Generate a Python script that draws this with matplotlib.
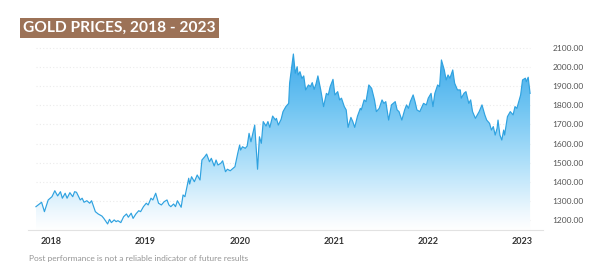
#gold prices chart 2018-2023
import numpy as np
import matplotlib
matplotlib.use('Agg')
import matplotlib.pyplot as plt
from matplotlib.colors import LinearSegmentedColormap
from matplotlib.patches import Polygon

#---------------------------------------------------------------- dati
anni = [2017.84, 2017.90, 2017.93, 2017.97, 2018.01, 2018.04, 2018.07, 2018.10, 2018.12, 2018.15,
        2018.17, 2018.20, 2018.23, 2018.25, 2018.27, 2018.31, 2018.33, 2018.35, 2018.38, 2018.41,
        2018.43, 2018.47, 2018.50, 2018.54, 2018.56, 2018.60, 2018.62, 2018.64, 2018.67, 2018.69,
        2018.71, 2018.74, 2018.77, 2018.80, 2018.82, 2018.85, 2018.87, 2018.90, 2018.93, 2018.95,
        2018.98, 2019.01, 2019.03, 2019.06, 2019.08, 2019.11, 2019.14, 2019.17, 2019.20, 2019.23,
        2019.25, 2019.27, 2019.30, 2019.32, 2019.34, 2019.38, 2019.40, 2019.42, 2019.46, 2019.47,
        2019.49, 2019.52, 2019.55, 2019.58, 2019.60, 2019.63, 2019.65, 2019.68, 2019.70, 2019.73,
        2019.75, 2019.77, 2019.80, 2019.82, 2019.85, 2019.87, 2019.90, 2019.93, 2019.95, 2019.98,
        2020.00, 2020.01, 2020.03, 2020.06, 2020.08, 2020.10, 2020.12, 2020.14, 2020.16, 2020.19,
        2020.21, 2020.23, 2020.25, 2020.28, 2020.30, 2020.32, 2020.35, 2020.38, 2020.39, 2020.41,
        2020.44, 2020.46, 2020.49, 2020.52, 2020.53, 2020.57, 2020.59, 2020.61, 2020.62, 2020.64,
        2020.66, 2020.68, 2020.70, 2020.73, 2020.75, 2020.77, 2020.79, 2020.81, 2020.83, 2020.86,
        2020.89, 2020.92, 2020.94, 2020.96, 2020.99, 2021.01, 2021.04, 2021.06, 2021.08, 2021.11,
        2021.13, 2021.15, 2021.18, 2021.20, 2021.22, 2021.25, 2021.28, 2021.29, 2021.32, 2021.34,
        2021.37, 2021.40, 2021.43, 2021.45, 2021.48, 2021.51, 2021.53, 2021.55, 2021.58, 2021.61,
        2021.65, 2021.67, 2021.69, 2021.72, 2021.75, 2021.77, 2021.79, 2021.81, 2021.84, 2021.86,
        2021.88, 2021.91, 2021.95, 2021.98, 2022.00, 2022.03, 2022.05, 2022.07, 2022.10, 2022.12,
        2022.14, 2022.17, 2022.19, 2022.21, 2022.23, 2022.26, 2022.28, 2022.31, 2022.34, 2022.35,
        2022.38, 2022.40, 2022.43, 2022.45, 2022.47, 2022.50, 2022.52, 2022.54, 2022.57, 2022.60,
        2022.62, 2022.65, 2022.67, 2022.69, 2022.71, 2022.73, 2022.74, 2022.76, 2022.78, 2022.80,
        2022.81, 2022.84, 2022.87, 2022.90, 2022.92, 2022.94, 2022.96, 2022.98, 2023.00, 2023.03,
        2023.04, 2023.06, 2023.08]

prezzi = [1272, 1295, 1246, 1307, 1324, 1355, 1328, 1350, 1316, 1342,
          1316, 1345, 1324, 1350, 1347, 1307, 1316, 1295, 1303, 1290,
          1303, 1246, 1234, 1223, 1211, 1182, 1206, 1189, 1203, 1194,
          1199, 1189, 1220, 1234, 1217, 1238, 1211, 1234, 1251, 1246,
          1272, 1290, 1281, 1316, 1307, 1342, 1290, 1281, 1298, 1307,
          1281, 1272, 1286, 1272, 1303, 1269, 1333, 1324, 1420, 1390,
          1428, 1402, 1437, 1411, 1515, 1532, 1546, 1506, 1524, 1484,
          1515, 1489, 1498, 1511, 1454, 1467, 1459, 1472, 1480, 1550,
          1593, 1567, 1584, 1576, 1588, 1654, 1610, 1654, 1697, 1467,
          1636, 1602, 1715, 1692, 1715, 1685, 1744, 1723, 1732, 1697,
          1727, 1767, 1793, 1810, 1915, 2067, 1967, 2001, 1958, 1975,
          1940, 1953, 1880, 1906, 1897, 1918, 1883, 1911, 1953, 1880,
          1793, 1862, 1854, 1897, 1935, 1854, 1871, 1828, 1837, 1793,
          1776, 1685, 1737, 1715, 1685, 1744, 1784, 1776, 1828, 1819,
          1906, 1888, 1828, 1767, 1784, 1828, 1810, 1819, 1723, 1802,
          1819, 1776, 1767, 1723, 1776, 1802, 1784, 1819, 1854, 1819,
          1776, 1767, 1810, 1802, 1837, 1862, 1793, 1862, 1906, 1897,
          2036, 1984, 1932, 1958, 1941, 1984, 1915, 1880, 1880, 1837,
          1863, 1871, 1810, 1828, 1767, 1732, 1750, 1767, 1802, 1750,
          1723, 1706, 1671, 1689, 1645, 1680, 1723, 1645, 1619, 1671,
          1645, 1741, 1767, 1750, 1793, 1784, 1819, 1854, 1932, 1941,
          1923, 1946, 1862]

anni_tick = [2018, 2019, 2020, 2021, 2022, 2023]
prezzi_tick = [1200, 1300, 1400, 1500, 1600, 1700, 1800, 1900, 2000, 2100]

titolo = 'GOLD PRICES, 2018 - 2023'
nota = 'Post performance is not a reliable indicator of future results'

#---------------------------------------------------------------- figura
fig = plt.figure(figsize=(6, 2.73), dpi=100)
ax = fig.add_axes([0.0467, 0.1575, 0.8583, 0.696])

ymin, ymax = 1150.5, 2140
xmin, xmax = 2017.756, 2023.217
ax.set_xlim(xmin, xmax)
ax.set_ylim(ymin, ymax)

#linee di griglia puntinate
ax.hlines(prezzi_tick, anni[0], anni[-1], colors='#ebebeb', linestyles=(0, (1, 2)), linewidth=0.8, zorder=1)

#riempimento sfumato sotto la curva
blu = LinearSegmentedColormap.from_list('blu', [(0, '#ffffff'), (0.1, '#eef8fe'),
                                                  (0.4, '#abdef9'), (0.7, '#6fc4f2'), (1, '#40aaea')])
grad = np.linspace(0, 1, 256).reshape(-1, 1)
img = ax.imshow(grad, extent=[anni[0], anni[-1], ymin, 2070], origin='lower', aspect='auto',
                cmap=blu, zorder=2)
vertici = [(anni[0], ymin)] + list(zip(anni, prezzi)) + [(anni[-1], ymin)]
poly = Polygon(vertici, closed=True, facecolor='none', edgecolor='none')
ax.add_patch(poly)
img.set_clip_path(poly)

ax.plot(anni, prezzi, color='#2fa2e0', linewidth=0.85, zorder=3)

#assi
for s in ['top', 'left', 'right']:
    ax.spines[s].set_visible(False)
ax.spines['bottom'].set_color('#e2e2e2')
ax.spines['bottom'].set_linewidth(0.8)

ax.set_xticks(anni_tick)
ax.set_xticklabels([str(a) for a in anni_tick], fontsize=6.5, fontweight='bold',
                   color='#333333', family='Lato')
ax.tick_params(axis='x', length=0, pad=5)

ax.yaxis.tick_right()
ax.set_yticks(prezzi_tick)
ax.set_yticklabels(['{:.2f}'.format(p) for p in prezzi_tick], fontsize=6, color='#555555', family='Lato')
ax.tick_params(axis='y', length=0, pad=7)

#titolo nel riquadro marrone
fig.text(23 / 600, 1 - 28 / 273, titolo, fontsize=11.2, fontweight='bold', color='white',
         family='Lato', va='center', ha='left',
         bbox=dict(boxstyle='square,pad=0.22', facecolor='#9c7257', edgecolor='none'))

#nota a pie' di pagina
fig.text(29 / 600, 1 - 258 / 273, nota, fontsize=6.0, color='#959595', family='Lato',
         va='center', ha='left')

fig.savefig('out.png', dpi=100)
